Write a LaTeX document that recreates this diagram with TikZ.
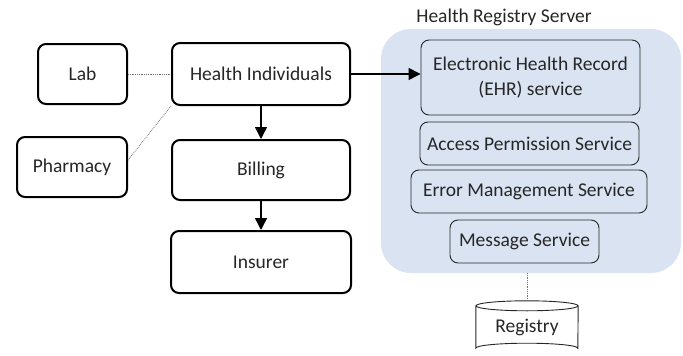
\documentclass[tikz,border=0pt]{standalone}
\usepackage{fontspec}
\setmainfont{Carlito}
\usetikzlibrary{arrows.meta,calc}
\definecolor{serverbg}{RGB}{218,227,242}
\definecolor{txt}{RGB}{38,38,38}
\tikzset{
  base/.style={font=\fontsize{19.5}{24.5}\selectfont, text=txt},
  outerbox/.style={base, draw=black, line width=2pt, rounded corners=8pt, inner sep=0pt},
  innerbox/.style={base, draw=black!85, line width=0.9pt, rounded corners=8pt, inner sep=0pt, align=center},
  link/.style={draw=black!55, line width=0.8pt, densely dotted},
  flow/.style={line width=1.4pt, -{Triangle[length=12pt,width=12pt]}}
}
\begin{document}
\begin{tikzpicture}[x=1pt,y=-1pt]
\useasboundingbox (0,0) rectangle (683,356);

% left side: participants and billing chain
\node[outerbox, minimum width=89pt, minimum height=60pt] (lab) at (82.5,74) {Lab};
\node[outerbox, minimum width=178pt, minimum height=62pt] (hi) at (261,74) {Health Individuals};
\node[outerbox, minimum width=110pt, minimum height=60pt] (pharm) at (72,167) {Pharmacy};
\node[outerbox, minimum width=178pt, minimum height=60pt] (bill) at (261,170) {Billing};
\node[outerbox, minimum width=180pt, minimum height=62pt] (ins) at (261,262) {Insurer};

% server container
\node[fill=serverbg, rounded corners=30pt, minimum width=300pt, minimum height=244pt, inner sep=0pt] (srv) at (531,151) {};
\node[base] (title) at (504,17) {Health Registry Server};

% services inside the server
\node[innerbox, minimum width=219pt, minimum height=75pt] (ehr) at (530.5,77.5) {Electronic Health Record\\(EHR) service};
\node[innerbox, minimum width=219pt, minimum height=43pt] (acc) at (529.5,143.5) {Access Permission Service};
\node[innerbox, minimum width=236pt, minimum height=43pt] (err) at (529,191.5) {Error Management Service};
\node[innerbox, minimum width=149pt, minimum height=43pt] (msg) at (524.5,241.5) {Message Service};

% registry database
\node[base, minimum width=102pt, minimum height=52pt, inner sep=0pt] (reg) at (527,327) {\raisebox{-6pt}{Registry}};
\draw[line width=0.9pt, draw=black!85]
  ($(reg.north west)+(0,5)$) -- ($(reg.south west)+(0,-5)$)
  arc[start angle=180, end angle=360, x radius=51pt, y radius=-5pt]
  -- ($(reg.north east)+(0,5)$);
\draw[line width=0.9pt, draw=black!85] ($(reg.north)+(0,5)$) ellipse[x radius=51pt, y radius=5pt];

% connectors
\draw[link] (lab.east) -- (hi.west);
\draw[link] (pharm.7) -- (hi.south west);
\draw[link] (reg.north) -- (reg.north |- srv.south);
\draw[flow] (hi.east) -- (hi.east -| ehr.west);
\draw[flow] (hi.south) -- (bill.north);
\draw[flow] (bill.south) -- (ins.north);
\end{tikzpicture}
\end{document}
